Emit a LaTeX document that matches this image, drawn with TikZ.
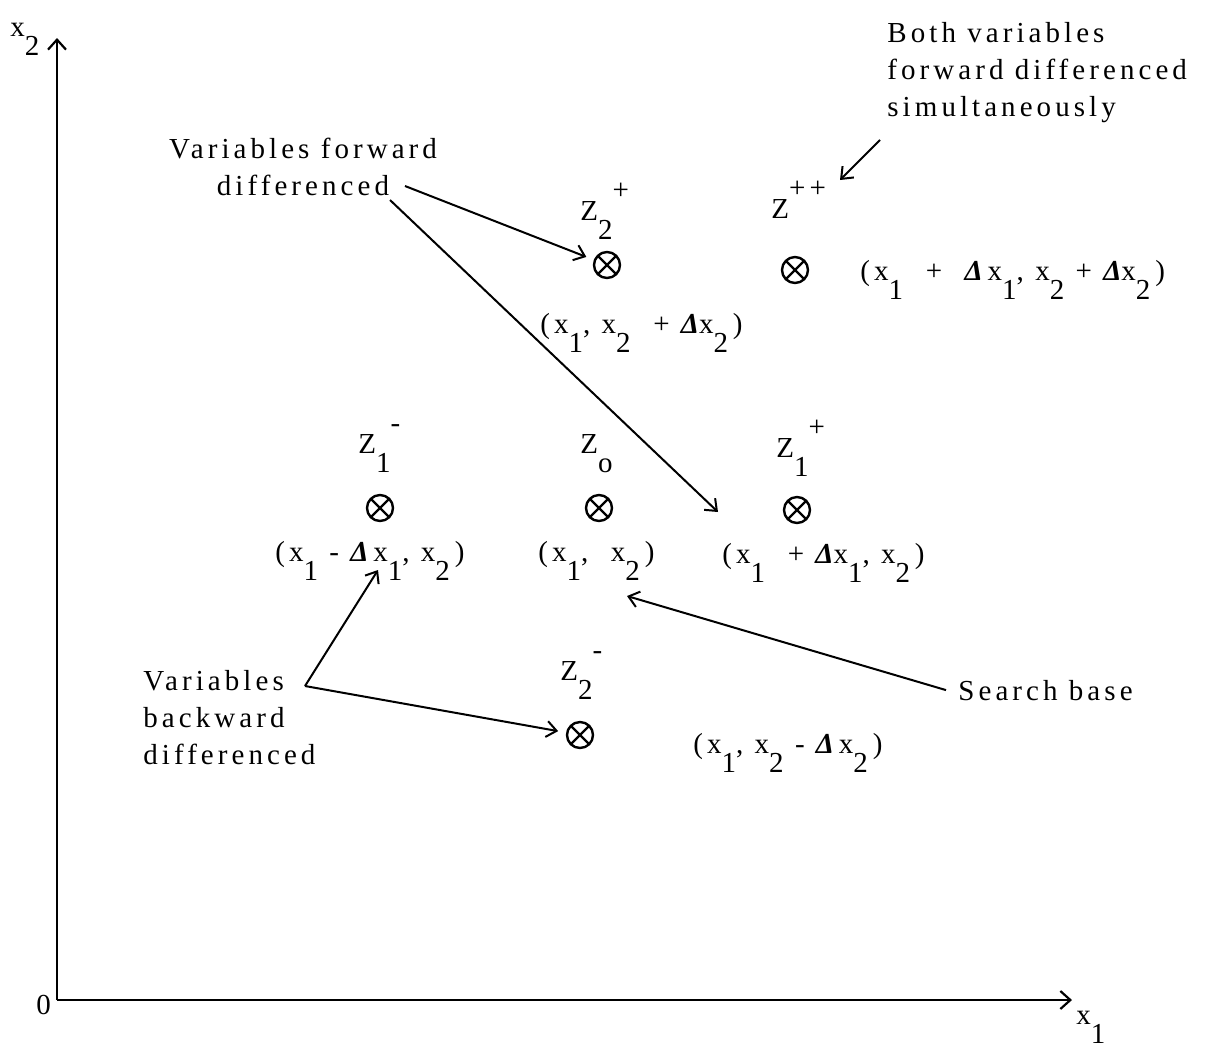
\documentclass[tikz,border=0pt]{standalone}
\usepackage{fontspec}
\setmainfont{Liberation Serif}[LetterSpace=14]
\usetikzlibrary{arrows.meta}
\newcommand{\dfLo}[1]{\raisebox{-0.68em}{#1}}
\newcommand{\dfHi}[1]{\raisebox{0.72em}{#1}}
\newcommand{\dfDelta}{{\bfseries\itshape Δ}}

\begin{document}
\begin{tikzpicture}[x=0.5pt,y=-0.5pt,
  font={\fontsize{14.5}{18.5}\selectfont},
  every node/.style={inner sep=0pt},
  lbl/.style={anchor=base west},
  otimes/.style={circle, draw, line width=1.2pt, minimum size=13pt,
    path picture={\draw[line width=1.1pt] (path picture bounding box.north west) -- (path picture bounding box.south east)
      (path picture bounding box.north east) -- (path picture bounding box.south west);}},
  axis/.style={line width=1.2pt, -{Straight Barb[length=5pt,width=9pt,line width=1.1pt]}},
  pointer/.style={line width=1pt, -{Straight Barb[length=5pt,width=8pt,line width=1pt]}}]
\useasboundingbox (0,0) rectangle (1208,1057);
% axes
\coordinate (origin) at (57,1000);
\coordinate (xtip) at (1072,1000);
\coordinate (ytip) at (57,38);
\draw[axis] (origin) -- (xtip);
\draw[axis] (origin) -- (ytip);
\node[lbl] (xtwo) at (10,36) {x\dfLo{2}};
\node[lbl] (xone) at (1076,1024) {x\dfLo{1}};
\node[lbl] (zerolbl) at (36,1014) {0};
% search points
\node[otimes] (ztwop) at (607,265) {};
\node[otimes] (zpp) at (795,270) {};
\node[otimes] (zonem) at (380,508) {};
\node[otimes] (zzero) at (599,508) {};
\node[otimes] (zonep) at (797,510) {};
\node[otimes] (ztwom) at (580,735) {};
% point names
\node[lbl] (ztwoplbl) at (580,220) {Z\dfLo{2}\dfHi{+}};
\node[lbl] (zpplbl) at (771,218) {Z\dfHi{++}};
\node[lbl] (zonemlbl) at (358,453) {Z\dfLo{1}\dfHi{-}};
\node[lbl] (zzerolbl) at (580,453) {Z\dfLo{o}};
\node[lbl] (zoneplbl) at (776,457) {Z\dfLo{1}\dfHi{+}};
\node[lbl] (ztwomlbl) at (560,680) {Z\dfLo{2}\dfHi{-}};
% coordinates of the points
\node[lbl] (ztwopxy) at (540,333) {(x\dfLo{1}, x\dfLo{2}\ \ + \dfDelta x\dfLo{2}\,)};
\node[lbl] (zppxy) at (860,280) {(x\dfLo{1}\ \ +\ \ \dfDelta\,x\dfLo{1}, x\dfLo{2}\ + \dfDelta x\dfLo{2}\,)};
\node[lbl] (zonemxy) at (275,561) {(x\dfLo{1} - \dfDelta\,x\dfLo{1}, x\dfLo{2}\,)};
\node[lbl] (zzeroxy) at (538,561) {(x\dfLo{1},\ \ x\dfLo{2}\,)};
\node[lbl] (zonepxy) at (722,563) {(x\dfLo{1}\ \ + \dfDelta x\dfLo{1}, x\dfLo{2}\,)};
\node[lbl] (ztwomxy) at (693,753) {(x\dfLo{1}, x\dfLo{2} - \dfDelta\,x\dfLo{2}\,)};
% notes
\node[anchor=north, align=center] (fwdtxt) at (303,138) {Variables forward\\differenced};
\node[anchor=north west, align=left] (bothtxt) at (887,22) {Both variables\\forward differenced\\simultaneously};
\node[anchor=north west, align=left] (bwdtxt) at (143,670) {Variables\\backward\\differenced};
\node[lbl] (searchtxt) at (958,700) {Search base};
% pointers
\coordinate (fwdA) at (405,186);
\coordinate (fwdB) at (390,200);
\coordinate (fwdEnd) at (718,512);
\coordinate (bothA) at (880,140);
\coordinate (bothEnd) at (840,180);
\coordinate (bwdA) at (305,686);
\coordinate (bwdEnd) at (378,570);
\coordinate (searchEnd) at (627,596);
\draw[pointer, shorten >=4pt] (fwdA) -- (ztwop);
\draw[pointer] (fwdB) -- (fwdEnd);
\draw[pointer] (bothA) -- (bothEnd);
\draw[pointer] (bwdA) -- (bwdEnd);
\draw[pointer, shorten >=4pt] (bwdA) -- (ztwom);
\draw[pointer] ([xshift=-6pt]searchtxt.west) -- (searchEnd);
\end{tikzpicture}
\end{document}
